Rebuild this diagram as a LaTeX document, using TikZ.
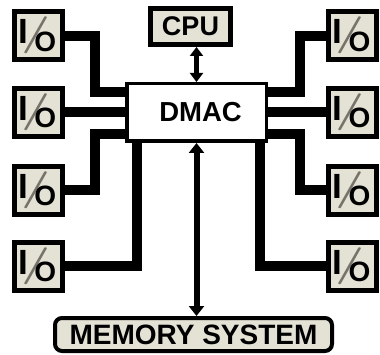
\documentclass[tikz,border=0pt]{standalone}
\usepackage{fontspec}
\usepackage{graphicx}
\usetikzlibrary{arrows.meta}
\newfontfamily\diagfont{Liberation Sans}
\definecolor{boxfill}{HTML}{E4E2D5}
\definecolor{slashgrey}{HTML}{77726A}
% the stacked I/O mark: big I, thin grey slash, smaller O
\newcommand{\iolabel}{\raisebox{0pt}[20pt][20pt]{\makebox[40pt][l]{%
  \rlap{\raisebox{-8pt}{\fontsize{35}{35}\selectfont I}}%
  \hspace{3.15pt}\rlap{\raisebox{-8.75pt}{\color{slashgrey}\rmfamily\bfseries
    \scalebox{1.4}[1]{\fontsize{37}{37}\selectfont /}}}%
  \hspace{12.85pt}\raisebox{-15.2pt}{\fontsize{28}{28}\selectfont O}}}}

\begin{document}
\begin{tikzpicture}[
  x=1pt,
  y=-1pt,
  every node/.style={font=\diagfont\bfseries, text=black},
  iobox/.style={draw=black, line width=5pt, fill=boxfill, inner sep=0pt,
                minimum width=48pt, minimum height=48pt},
  cpubox/.style={draw=black, line width=5pt, fill=boxfill, inner sep=0pt,
                 minimum width=80pt, minimum height=36pt},
  dmacbox/.style={draw=black, line width=3.5pt, fill=white, inner sep=0pt,
                  minimum width=139.5pt, minimum height=57.5pt},
  membox/.style={draw=black, line width=4pt, fill=boxfill, inner sep=0pt,
                 rounded corners=7pt, minimum width=277pt, minimum height=33pt},
  bus/.style={black, line width=10pt},
  link/.style={black, line width=5pt,
               {Triangle[length=9pt,width=13pt]}-{Triangle[length=9pt,width=13pt]}},
  memlink/.style={black, line width=6pt,
                  {Triangle[length=10pt,width=15pt]}-{Triangle[length=10pt,width=15pt]}}
]
  \useasboundingbox (0,0) rectangle (380,355);

  % ---- boxes -------------------------------------------------------------
  \node[cpubox] (cpu) at (190.5,26.5) {\fontsize{27}{27}\selectfont CPU};
  \node[dmacbox] (dmac) at (196.5,112.5)
    {\hspace{8pt}\fontsize{27.5}{27.5}\selectfont DMAC};
  \node[membox] (mem) at (193.5,334.5)
    {\fontsize{28}{28}\selectfont MEMORY SYSTEM};

  \foreach \y [count=\i] in {36, 112.5, 190.5, 266.5} {
    \node[iobox] (iol\i) at (38.5,\y) {\iolabel};
    \node[iobox] (ior\i) at (352.5,\y) {\iolabel};
  }

  % ---- left-hand buses ---------------------------------------------------
  \draw[bus] (iol1.east) -| (95,92) -- (dmac.west |- 0,92);
  \draw[bus] (iol2.east) -- (iol2.east -| dmac.west);
  \draw[bus] (iol3.east) -| (95,134) -- (dmac.west |- 0,134);
  \draw[bus] (iol4.east) -| (137,0 |- dmac.south);

  % ---- right-hand buses --------------------------------------------------
  \draw[bus] (ior1.west) -| (300,92) -- (dmac.east |- 0,92);
  \draw[bus] (ior2.west) -- (ior2.west -| dmac.east);
  \draw[bus] (ior3.west) -| (300,134) -- (dmac.east |- 0,134);
  \draw[bus] (ior4.west) -| (260,0 |- dmac.south);

  % ---- CPU and memory links ----------------------------------------------
  \draw[link] (cpu.south -| dmac.north) -- (dmac.north);
  \draw[memlink] (dmac.south) -- (dmac.south |- mem.north);
\end{tikzpicture}
\end{document}
